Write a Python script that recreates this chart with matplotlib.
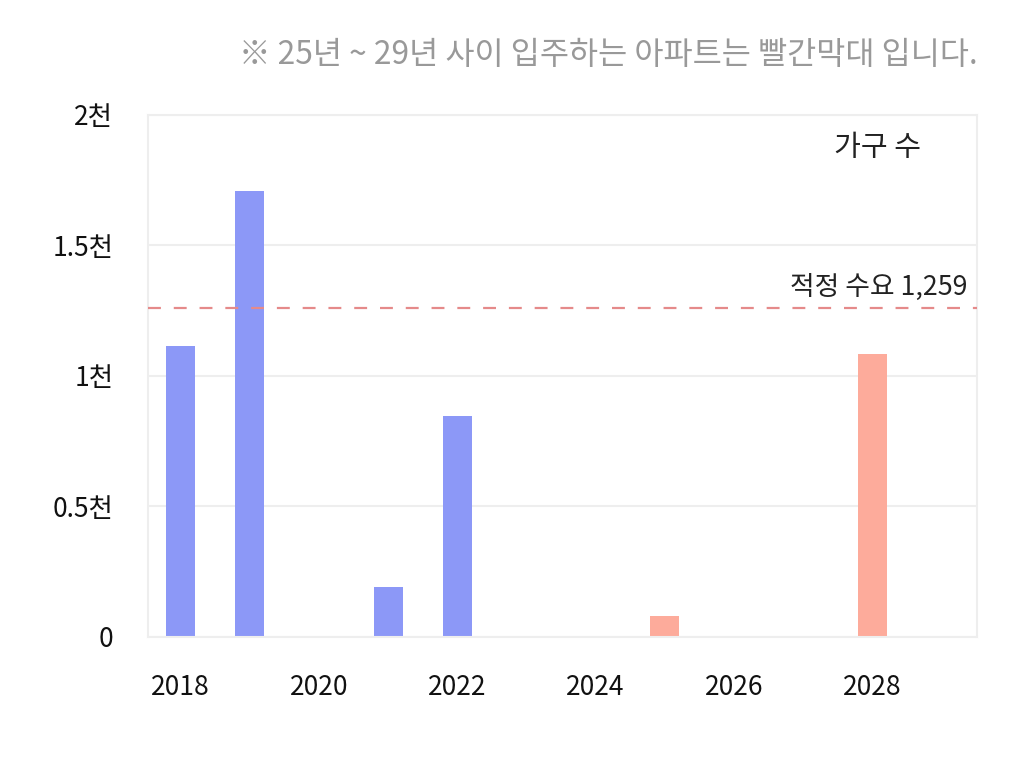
import matplotlib.pyplot as plt

plt.rcParams['font.family'] = ['Noto Sans CJK KR', 'DejaVu Sans']

# data
years = [2018, 2019, 2021, 2022, 2025, 2028]
households = [1115, 1710, 193, 848, 82, 1085]
colors = ['#8c98f7', '#8c98f7', '#8c98f7', '#8c98f7', '#fdab9b', '#fdab9b']
demand = 1259
xticks = [2018, 2020, 2022, 2024, 2026, 2028]
yticks = [0, 500, 1000, 1500, 2000]
ylabels = ['0', '0.5천', '1천', '1.5천', '2천']

fig = plt.figure(figsize=(10.26, 7.69), dpi=100)
ax = fig.add_axes([0.1442, 0.1717, 0.808, 0.6788])

ax.bar(years, households, width=0.42, color=colors, zorder=2)
ax.axhline(demand, color='#e58a8a', linestyle=(0, (5.8, 5.8)), linewidth=1.6, zorder=3)
ax.text(2029.37, demand + 30, '적정 수요 1,259', ha='right', va='bottom',
        fontsize=19.3, color='#222222')
ax.text(0.88, 0.937, '가구 수', transform=ax.transAxes, ha='center', va='center',
        fontsize=21, color='#222222')

ax.set_xlim(2017.53, 2029.51)
ax.set_ylim(0, 2000)
ax.set_xticks(xticks)
ax.set_xticklabels([str(x) for x in xticks])
ax.set_yticks(yticks)
ax.set_yticklabels(ylabels)
ax.tick_params(length=0, labelsize=19, colors='#111111')
ax.tick_params(axis='x', pad=27)
ax.tick_params(axis='y', pad=25)
ax.grid(axis='y', color='#eeeeee', linewidth=1.5, zorder=0)
for s in ax.spines.values():
    s.set_color('#eeeeee')
    s.set_linewidth(1.5)

fig.text(0.953, 0.928, '※ 25년 ~ 29년 사이 입주하는 아파트는 빨간막대 입니다.',
         ha='right', va='center', fontsize=22.8, color='#999999')

fig.savefig('out.png', dpi=100)
